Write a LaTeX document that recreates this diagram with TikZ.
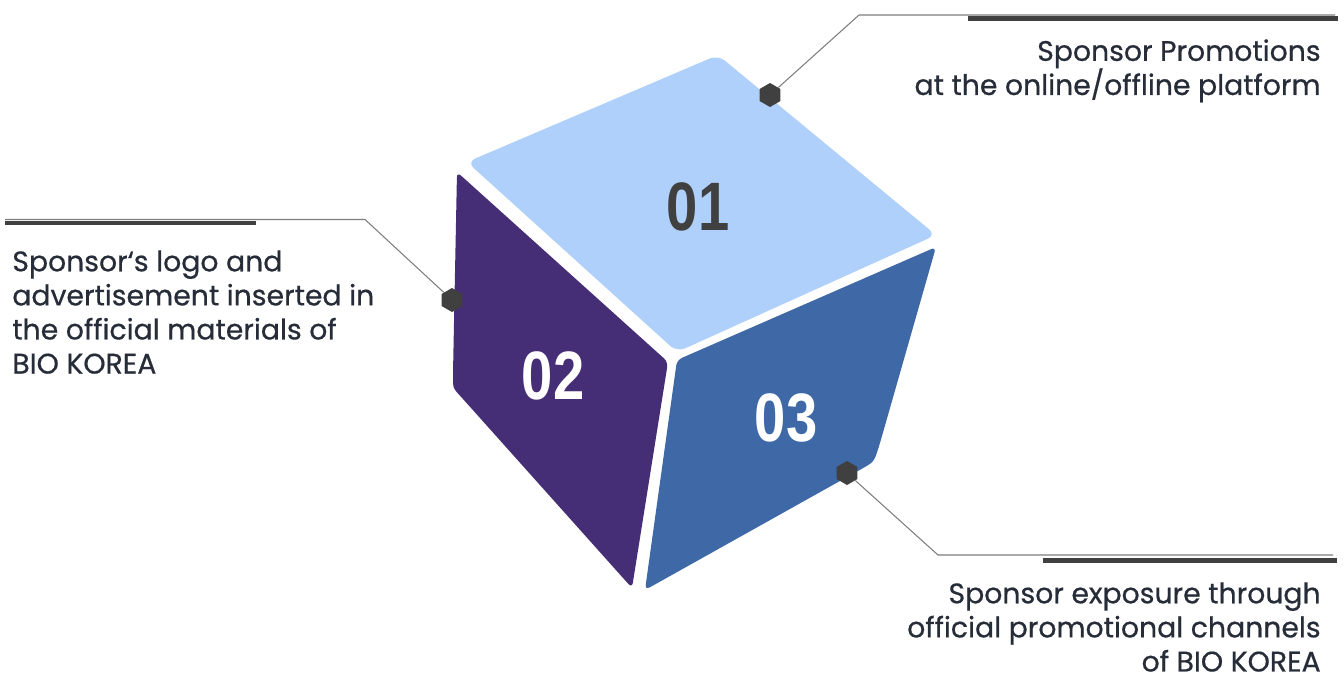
\documentclass[tikz,border=0pt]{standalone}
\usepackage{fontspec}
\setmainfont{Poppins}
\newfontfamily\numfont{Liberation Sans}
\usetikzlibrary{shapes.geometric}

\definecolor{topface}{RGB}{175,208,251}
\definecolor{leftface}{RGB}{69,46,117}
\definecolor{rightface}{RGB}{62,105,166}
\definecolor{markgray}{RGB}{64,64,64}
\definecolor{linegray}{RGB}{125,125,125}
\definecolor{notetext}{RGB}{38,44,56}

\tikzset{
  hexdot/.style={regular polygon, regular polygon sides=6, shape border rotate=30,
    fill=markgray, inner sep=0pt, minimum size=0.48cm},
  leader/.style={draw=linegray, line width=0.6pt},
  bar/.style={draw=markgray, line width=2.4pt},
  note/.style={text=notetext, inner sep=0pt,
    font=\addfontfeature{FakeBold=0.6}\fontsize{16.1}{19.4}\selectfont},
  facenum/.style={inner sep=0pt,
    font=\numfont\bfseries\addfontfeature{FakeStretch=0.82}\fontsize{39}{40}\selectfont}
}

\begin{document}
\begin{tikzpicture}[x=0.02cm,y=-0.02cm]
\useasboundingbox (0,0) rectangle (1344,680);

\fill[topface,rounded corners=5pt] (467,162) -- (718,55) -- (936,235) -- (677,352) -- cycle;
\fill[leftface,rounded corners=3pt] (457,172) -- (668,362) -- (632,588) -- (463,399)
  .. controls (453,388) .. (453,373) -- cycle;
\fill[rightface,rounded corners=3pt] (677,360) -- (936,247) -- (880,443)
  .. controls (874,462) .. (856,472) -- (645,590) -- cycle;

\node[facenum, text=markgray] (n1) at (698,207) {01};
\node[facenum, text=white] (n2) at (553,376) {02};
\node[facenum, text=white] (n3) at (786,418) {03};

\node[hexdot] (m1) at (770,95) {};
\node[hexdot] (m2) at (452,300) {};
\node[hexdot] (m3) at (847,473) {};

\coordinate (k1) at (859,15);
\coordinate (e1) at (1335,15);
\coordinate (k2) at (365,219.5);
\coordinate (e2) at (5,219.5);
\coordinate (k3) at (938,555);
\coordinate (e3) at (1333,555);

\draw[leader] (m1) -- (k1) -- (e1);
\draw[leader] (m2) -- (k2) -- (e2);
\draw[leader] (m3) -- (k3) -- (e3);

\draw[bar] (968,18.5) -- (1338,18.5);
\draw[bar] (5,223) -- (256,223);
\draw[bar] (1043,560.5) -- (1337,560.5);

\node[note, anchor=north east, align=right] (t1) at (1321,39)
  {Sponsor Promotions\\at the online/offline platform};
\node[note, anchor=north west, align=left] (t2) at (12,250)
  {Sponsor‘s logo and\\advertisement inserted in\\the official materials of\\BIO KOREA};
\node[note, anchor=north east, align=right] (t3) at (1321,582)
  {Sponsor exposure through\\official promotional channels\\of BIO KOREA};

\end{tikzpicture}
\end{document}
